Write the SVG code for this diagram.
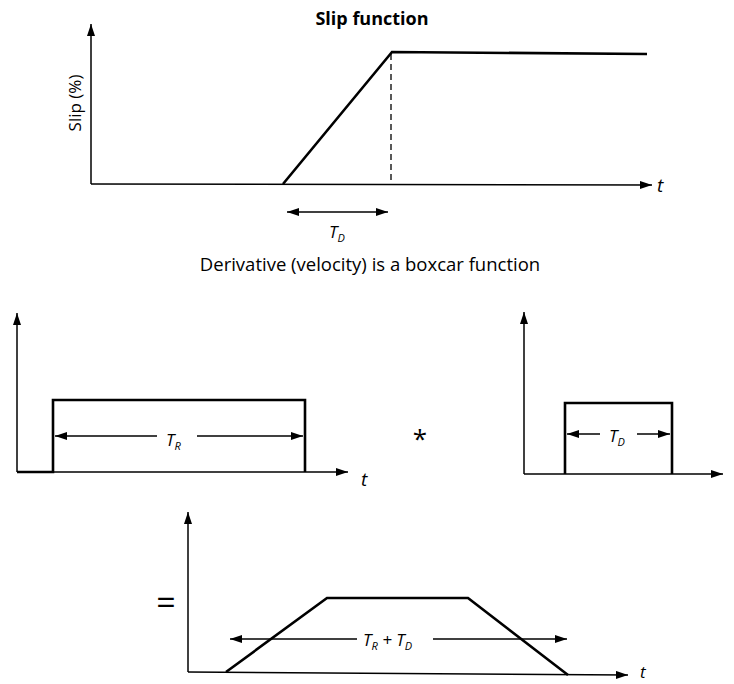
<svg xmlns="http://www.w3.org/2000/svg" width="734" height="684" viewBox="0 0 734 684">
<defs>
<marker id="ah" viewBox="0 0 12 8" refX="12" refY="4" markerWidth="12" markerHeight="8" markerUnits="userSpaceOnUse" orient="auto-start-reverse">
<path d="M0,0 L12,4 L0,8 Z" fill="#000"/>
</marker>
</defs>
<style>
.ax{stroke:#000;stroke-width:1.5;fill:none}
.th{stroke:#000;stroke-width:2.6;fill:none;stroke-linejoin:miter}
.dim{stroke:#000;stroke-width:1.5;fill:none}
.dash{stroke:#000;stroke-width:1.3;stroke-dasharray:6,4;fill:none}
text{font-family:"Open Sans","Noto Sans","Liberation Sans",sans-serif;fill:#000}
.it{font-style:italic}
.lbl{font-size:17px;font-style:italic}
.sub{font-size:11px}
</style>
<rect width="734" height="684" fill="#fff"/>
<g id="connectors">
<path class="ax" d="M91,184 L91,24" marker-end="url(#ah)"/>
<path class="ax" d="M91,184 L652,185" marker-end="url(#ah)"/>
<path class="dash" d="M391,54 L391,184"/>
<path class="dim" d="M287,212 L388,212" marker-start="url(#ah)" marker-end="url(#ah)"/>
<path class="ax" d="M17,472 L17,313" marker-end="url(#ah)"/>
<path class="ax" d="M17,472 L348,472" marker-end="url(#ah)"/>
<path class="dim" d="M55,436 L157,436" marker-start="url(#ah)"/>
<path class="dim" d="M197,436 L303,436" marker-end="url(#ah)"/>
<path class="ax" d="M524,474 L524,312" marker-end="url(#ah)"/>
<path class="ax" d="M524,474 L723,474" marker-end="url(#ah)"/>
<path class="dim" d="M567,434 L600,434" marker-start="url(#ah)"/>
<path class="dim" d="M637,434 L670,434" marker-end="url(#ah)"/>
<path class="ax" d="M188,672 L188,512" marker-end="url(#ah)"/>
<path class="ax" d="M188,672 L628,675" marker-end="url(#ah)"/>
<path class="dim" d="M230,639 L357,639" marker-start="url(#ah)"/>
<path class="dim" d="M433,639 L567,639" marker-end="url(#ah)"/>
</g>
<g id="slip-function">
<text x="372" y="25" font-size="18" font-weight="bold" text-anchor="middle">Slip function</text>
<text transform="translate(81,103) rotate(-90)" font-size="17" text-anchor="middle">Slip (%)</text>
<path class="th" d="M283,184 L392,52 L647,54"/>
<text x="657" y="192" font-size="19" class="it">t</text>
<text x="329" y="238" class="lbl">T<tspan class="sub" dy="4">D</tspan></text>
<text x="370" y="271" font-size="18.5" text-anchor="middle">Derivative (velocity) is a boxcar function</text>
</g>
<g id="boxcar-TR">
<path class="th" d="M17,472 L53,472 L53,400 L305,400 L305,472"/>
<text x="166" y="446" class="lbl">T<tspan class="sub" dy="4">R</tspan></text>
<text x="361" y="486" font-size="19" class="it">t</text>
</g>
<g id="convolution-symbol">
<text x="420" y="448" font-size="26" text-anchor="middle">*</text>
</g>
<g id="boxcar-TD">
<path class="th" d="M565,474 L565,403 L672,403 L672,474"/>
<text x="609" y="442" class="lbl">T<tspan class="sub" dy="4">D</tspan></text>
</g>
<g id="result">
<text x="166" y="615" font-size="34" text-anchor="middle">=</text>
<path class="th" d="M226,672 L327,598 L468,598 L568,675"/>
<text x="363" y="646" class="lbl">T<tspan class="sub" dy="4">R</tspan><tspan dy="-4"> + </tspan>T<tspan class="sub" dy="4">D</tspan></text>
<text x="640" y="678" font-size="17" class="it">t</text>
</g>
</svg>
